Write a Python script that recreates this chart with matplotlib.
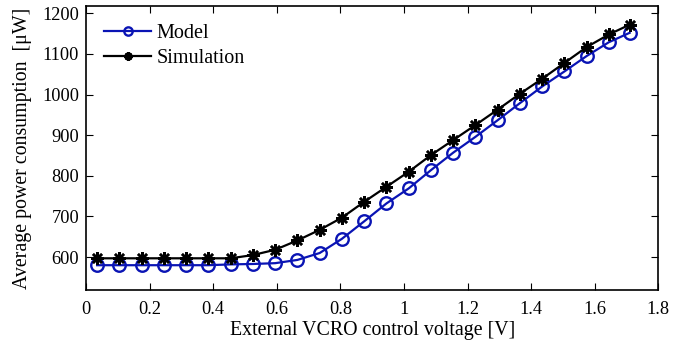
import numpy as np
from matplotlib import pyplot as plt

# control voltage [V]
voltage = [0.035, 0.105, 0.175, 0.245, 0.315, 0.385, 0.455, 0.525, 0.595,
           0.665, 0.735, 0.805, 0.875, 0.945, 1.015, 1.085, 1.155, 1.225,
           1.295, 1.365, 1.435, 1.505, 1.575, 1.645, 1.71]

model = [580, 580, 580, 580, 580, 580, 582, 583, 585,
         593, 610, 645, 688, 732, 769, 814, 857, 896,
         937, 979, 1020, 1057, 1095, 1129, 1152]

simulation = [597, 597, 597, 597, 597, 597, 597, 605, 618,
              641, 667, 697, 736, 773, 810, 851, 888, 925,
              963, 1002, 1039, 1078, 1117, 1148, 1172]

xticks = [0, 0.2, 0.4, 0.6, 0.8, 1, 1.2, 1.4, 1.6, 1.8]
xticklabels = ['0', '0.2', '0.4', '0.6', '0.8', '1', '1.2', '1.4', '1.6', '1.8']
yticks = [600, 700, 800, 900, 1000, 1100, 1200]

plt.rcParams['font.family'] = ['Liberation Serif', 'DejaVu Serif']

fig = plt.figure(figsize=(6.98, 3.48), dpi=100)
ax = fig.add_axes([0.1232, 0.1667, 0.8199, 0.8161])

blue = '#0a14b4'
ax.plot(voltage, model, color=blue, lw=1.6, marker='o', ms=9,
        mfc='none', mec=blue, mew=1.7, label='Model')
ax.plot(voltage, simulation, color='k', lw=1.6, marker=(8, 2, 0), ms=9,
        mfc='k', mec='k', mew=1.8, label='Simulation')

ax.set_xlim(0, 1.8)
ax.set_ylim(519, 1218)
ax.set_xticks(xticks)
ax.set_xticklabels(xticklabels)
ax.set_yticks(yticks)
ax.tick_params(direction='in', length=5, width=0.8, labelsize=13.2,
               top=True, right=True, pad=5)
ax.tick_params(axis='x', pad=8)
for s in ax.spines.values():
    s.set_linewidth(1.2)

ax.set_xlabel('External VCRO control voltage [V]', fontsize=14.3, labelpad=2)
ax.set_ylabel('Average power consumption  [\u03bcW]', fontsize=14.3, labelpad=7)

leg = ax.legend(loc='upper left', frameon=False, fontsize=14.5,
                handlelength=2.35, borderaxespad=0.35, labelspacing=0.3,
                handletextpad=0.25, borderpad=0.55)
for h in leg.legend_handles:
    h.set_markersize(6)

fig.savefig('out.png', dpi=100)
